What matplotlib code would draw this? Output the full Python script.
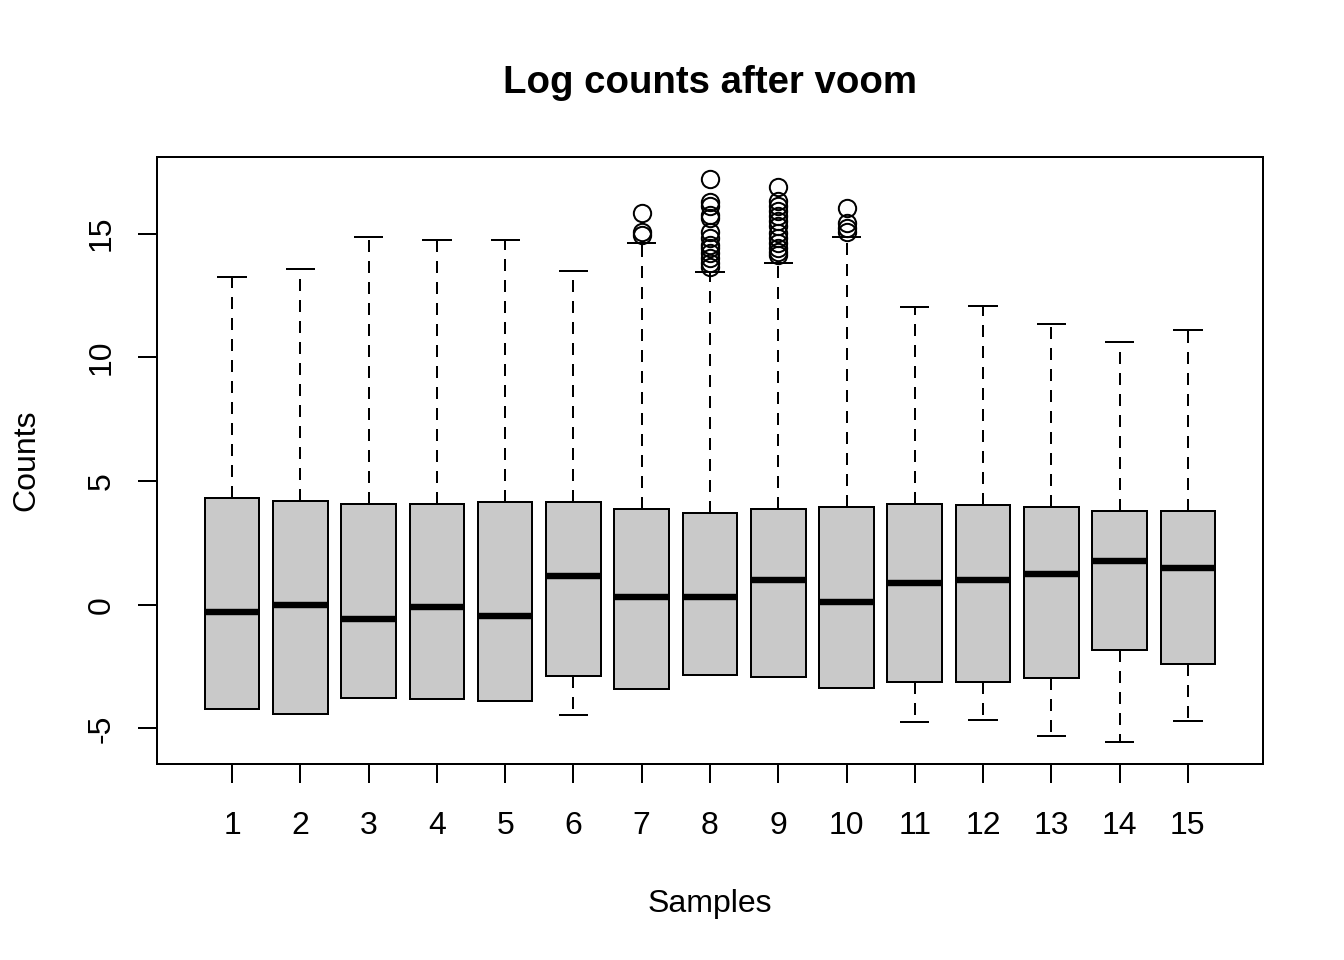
import matplotlib
matplotlib.use("Agg")
import matplotlib.pyplot as plt

plt.rcParams['font.family'] = ['Liberation Sans', 'DejaVu Sans']

# per-sample box statistics
samples = list(range(1, 16))
medians = [-0.30, -0.02, -0.59, -0.10, -0.47, 1.15, 0.29, 0.30, 0.98, 0.11,
           0.88, 0.99, 1.25, 1.76, 1.49]
q1 = [-4.23, -4.43, -3.79, -3.83, -3.91, -2.89, -3.41, -2.85, -2.94, -3.35,
      -3.14, -3.11, -2.98, -1.84, -2.38]
q3 = [4.31, 4.19, 4.07, 4.05, 4.15, 4.15, 3.88, 3.70, 3.85, 3.95,
      4.07, 4.04, 3.96, 3.80, 3.80]
whislo = [-4.23, -4.43, -3.79, -3.83, -3.91, -4.46, -3.41, -2.85, -2.94, -3.35,
          -4.73, -4.68, -5.30, -5.55, -4.70]
whishi = [13.25, 13.57, 14.85, 14.76, 14.76, 13.47, 14.64, 13.46, 13.83, 14.88,
          12.03, 12.09, 11.34, 10.63, 11.09]
outliers = {
    7: [15.85, 15.08, 14.96],
    8: [17.19, 16.26, 16.10, 15.77, 15.65, 15.08, 14.84, 14.55, 14.43,
        14.23, 14.03, 13.83, 13.66],
    9: [16.90, 16.30, 16.10, 15.90, 15.70, 15.50, 15.30, 15.04, 14.84,
        14.64, 14.43, 14.27, 14.15],
    10: [16.05, 15.45, 15.24, 15.08],
}

stats = []
for i, s in enumerate(samples):
    stats.append({
        'med': medians[i], 'q1': q1[i], 'q3': q3[i],
        'whislo': whislo[i], 'whishi': whishi[i],
        'fliers': outliers.get(s, []), 'label': str(s),
    })

fig = plt.figure(figsize=(7, 5), dpi=192)
ax = fig.add_axes([0.1168, 0.2042, 0.8229, 0.6323])

ax.bxp(stats, positions=samples, widths=0.8, patch_artist=True,
       capwidths=0.4,
       boxprops=dict(facecolor='#C9C9C9', edgecolor='black', linewidth=0.75),
       medianprops=dict(color='black', linewidth=2.4, solid_capstyle='butt'),
       whiskerprops=dict(color='black', linewidth=0.75, linestyle=(0, (6, 4.5))),
       capprops=dict(color='black', linewidth=0.75),
       flierprops=dict(marker='o', markerfacecolor='none', markeredgecolor='black',
                       markersize=6.5, markeredgewidth=0.75))

ax.set_xlim(-0.1, 16.1)
ax.set_ylim(-6.44, 18.1)
ax.set_yticks([-5, 0, 5, 10, 15])
ax.set_yticklabels(['-5', '0', '5', '10', '15'], rotation=90, va='center')
ax.set_xticks(samples)
ax.set_xticklabels([str(s) for s in samples])

for sp in ax.spines.values():
    sp.set_linewidth(0.75)
ax.tick_params(axis='both', length=7.2, width=0.75, labelsize=12)
ax.tick_params(axis='x', pad=10.5)
ax.tick_params(axis='y', pad=8)

ax.set_title('Log counts after voom', fontsize=14.4, fontweight='bold', pad=24)
ax.set_xlabel('Samples', fontsize=12, labelpad=18)
ax.set_ylabel('Counts', fontsize=12, labelpad=17)

fig.savefig('out.png', dpi=192)
